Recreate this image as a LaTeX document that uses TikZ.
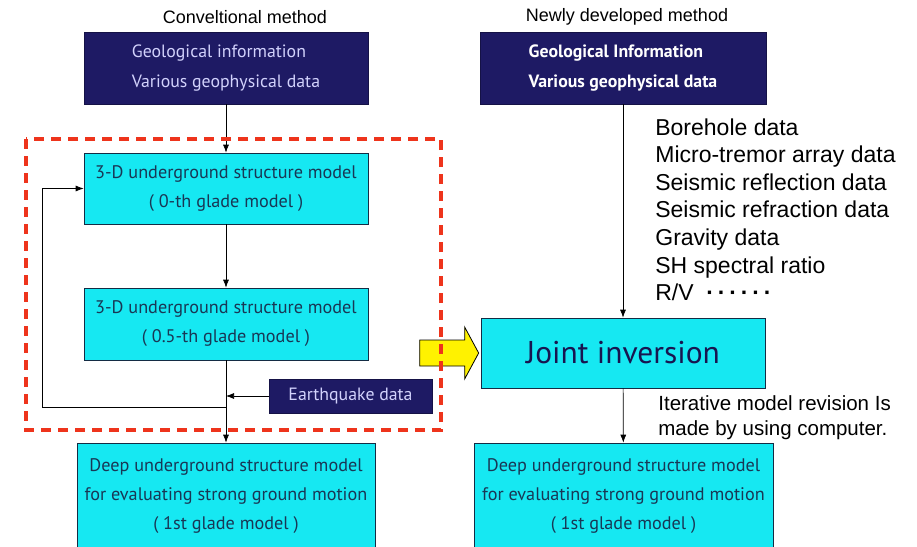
\documentclass[tikz,border=0pt]{standalone}
\usepackage{fontspec}
\setmainfont{Liberation Sans}
\newfontfamily\boxfont{PT Sans}
\usetikzlibrary{arrows.meta}

\definecolor{navy}{RGB}{30,26,100}
\definecolor{aqua}{RGB}{22,232,242}
\definecolor{slate}{RGB}{25,55,85}
\definecolor{lilac}{RGB}{210,210,252}
\definecolor{frame}{RGB}{238,52,28}

\begin{document}
\begin{tikzpicture}[x=1pt, y=-1pt, >={Latex[length=8pt,width=6pt]}, line width=0.7pt,
    navybox/.style={draw=navy!70!black, fill=navy, inner sep=0pt, align=left,
        font=\boxfont\fontsize{17.8}{30}\selectfont},
    aquabox/.style={draw=slate!80!black, fill=aqua, text=slate, inner sep=0pt, align=center,
        font=\boxfont\fontsize{18.2}{29}\selectfont},
    note/.style={inner sep=0pt, anchor=north west, align=left}]
    \useasboundingbox (0,0) rectangle (917,546);

    % conventional method
    \node[font=\fontsize{18}{20}\selectfont] (convtitle) at (245,17) {Conveltional method};
    \node[navybox, text=lilac, minimum width=284pt, minimum height=72pt] (geoL) at (226,68)
        {Geological information\\Various geophysical data};
    \node[aquabox, minimum width=284pt, minimum height=71pt] (m0) at (226,188.5)
        {3-D underground structure model\\( 0-th glade model )};
    \node[aquabox, minimum width=284pt, minimum height=72pt] (m05) at (226,324)
        {3-D underground structure model\\( 0.5-th glade model )};
    \node[navybox, text=lilac, minimum width=163pt, minimum height=34pt,
        font=\boxfont\fontsize{17.8}{20}\selectfont] (quake) at (350.5,396) {Earthquake data};
    \node[aquabox, minimum width=298pt, minimum height=106pt] (m1L) at (226,496)
        {Deep underground structure model\\for evaluating strong ground motion\\( 1st glade model )};

    \coordinate (turn) at (226,407);
    \coordinate (back) at (42,407);
    \draw[->] (geoL) -- (m0);
    \draw[->] (m0) -- (m05);
    \draw[->] (m05) -- (m1L);
    \draw[->] (quake.west) -- (quake.west -| m05.south);
    \draw[->] (turn) -- (back) |- (m0.west);

    % newly developed method
    \node[font=\fontsize{18}{20}\selectfont] (newtitle) at (627,17) {Newly developed method};
    \node[navybox, text=white, minimum width=286pt, minimum height=72pt,
        font=\boxfont\bfseries\fontsize{17.8}{30}\selectfont] (geoR) at (623,68)
        {Geological Information\\Various geophysical data};
    \node[aquabox, text=navy!80!black, minimum width=284pt, minimum height=70pt,
        font=\boxfont\fontsize{31.5}{34}\selectfont] (joint) at (623,353) {Joint inversion};
    \node[aquabox, minimum width=299pt, minimum height=106pt] (m1R) at (623.5,496)
        {Deep underground structure model\\for evaluating strong ground motion\\( 1st glade model )};
    \node[note, font=\fontsize{23}{27.6}\selectfont] (datalist) at (655,118)
        {Borehole data\\Micro-tremor array data\\Seismic reflection data\\Seismic refraction data\\
         Gravity data\\SH spectral ratio\\R/V \ {\bfseries ·\,·\,·\,·\,·\,·}};
    \node[note, font=\fontsize{20.5}{25}\selectfont] (iterate) at (658,395)
        {Iterative model revision Is\\made by using computer.};

    \draw[->] (geoR) -- (joint);
    \draw[->] (joint) -- (m1R);

    % yellow hand-over arrow, then the dashed frame on top of it
    \draw[fill=yellow, line width=0.8pt] ([xshift=-2pt]joint.west) -- ++(-14,-26) -- ++(0,13)
        -- ++(-45,0) -- ++(0,26) -- ++(45,0) -- ++(0,13) -- cycle;
    \draw[frame, line width=3.5pt, dash pattern=on 10pt off 7pt] (26,139) rectangle (441,430);
\end{tikzpicture}
\end{document}
